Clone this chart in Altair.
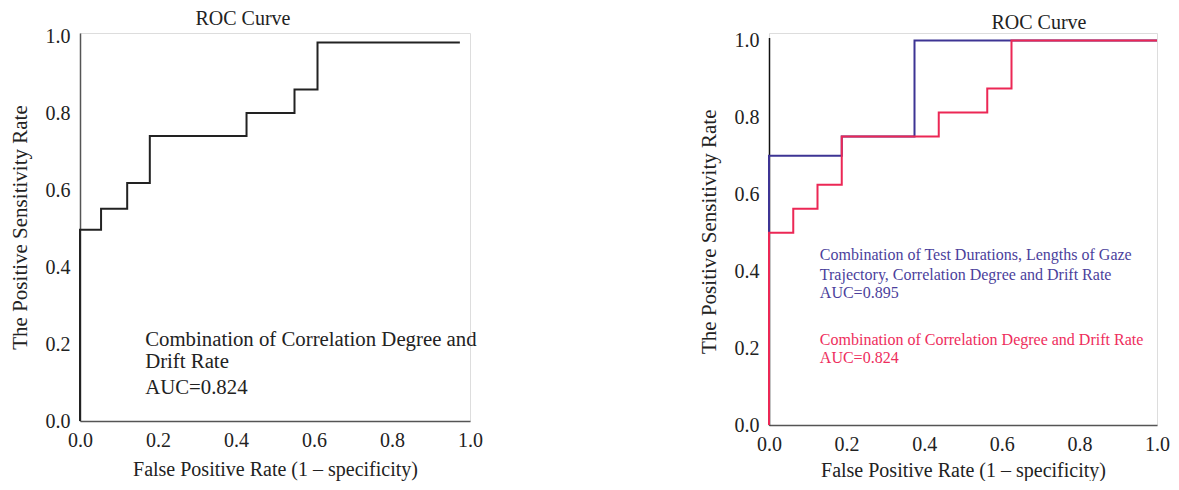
import altair as alt
import pandas as pd

# Left panel ROC (step vertices)
left_fpr = [0.0, 0.0, 0.054, 0.121, 0.179, 0.427, 0.550, 0.609, 0.974]
left_tpr = [0.0, 0.497, 0.551, 0.618, 0.740, 0.800, 0.861, 0.983, 0.983]

# Right panel ROC curves
blue_fpr = [0.0, 0.0, 0.1875, 0.375, 1.0]
blue_tpr = [0.0, 0.70, 0.75, 1.0, 1.0]
red_fpr = [0.0, 0.0, 0.0625, 0.125, 0.1875, 0.4375, 0.5625, 0.625, 1.0]
red_tpr = [0.0, 0.50, 0.5625, 0.625, 0.75, 0.8125, 0.875, 1.0, 1.0]

tick_vals = [0.0, 0.2, 0.4, 0.6, 0.8, 1.0]

left_text = ["Combination of Correlation Degree and", "Drift Rate", "AUC=0.824"]
left_text_y = [0.195, 0.138, 0.070]
blue_text = ["Combination of Test Durations, Lengths of Gaze",
             "Trajectory, Correlation Degree and Drift Rate", "AUC=0.895"]
blue_text_y = [0.430, 0.378, 0.331]
red_text = ["Combination of Correlation Degree and Drift Rate", "AUC=0.824"]
red_text_y = [0.208, 0.162]

FONT = "Liberation Serif"
BLUE = "#3d3494"
RED = "#ec2755"
BLUE_T = "#4b3f9c"
RED_T = "#ee2d5c"
LFS = 20
YMAX = 1.0078

def xenc(domain_color, title_pad):
    return alt.X("fpr:Q", scale=alt.Scale(domain=[0, 1], nice=False),
                 axis=alt.Axis(values=tick_vals, format=".1f", grid=False, ticks=False,
                               domainColor=domain_color, domainWidth=1.5,
                               labelFont=FONT, labelFontSize=LFS, labelColor="#222",
                               labelPadding=9, titleFont=FONT, titleFontSize=20,
                               titleFontWeight="normal", titleColor="#222",
                               titlePadding=title_pad, labelFlush=False),
                 title="False Positive Rate (1 \u2013 specificity)")

def yenc(domain_color, yrange=None):
    sc = alt.Scale(domain=[0, YMAX], nice=False, range=yrange) if yrange else \
        alt.Scale(domain=[0, YMAX], nice=False)
    return alt.Y("tpr:Q", scale=sc,
                 axis=alt.Axis(values=tick_vals, format=".1f", grid=False, ticks=False,
                               domainColor=domain_color, domainWidth=1.5,
                               labelFont=FONT, labelFontSize=LFS, labelColor="#222",
                               labelPadding=10, titleFont=FONT, titleFontSize=21,
                               titleFontWeight="normal", titleColor="#222", titlePadding=15,
                               labelFlush=False),
                 title="The Positive Sensitivity Rate")

left_df = pd.DataFrame({"fpr": left_fpr, "tpr": left_tpr})
left_line = alt.Chart(left_df).mark_line(interpolate="step-after", color="#222",
                                         strokeWidth=2).encode(x=xenc("#555", 9), y=yenc("#555"))
left_ann = alt.Chart(pd.DataFrame({"t": left_text, "y": left_text_y})).mark_text(
    align="left", baseline="alphabetic", font=FONT, fontSize=20.8, color="#222"
).encode(x=alt.datum(0.167), y="y:Q", text="t:N")

left = alt.layer(left_line, left_ann).properties(
    width=390, height=388,
    title=alt.TitleParams("ROC Curve", font=FONT, fontSize=20, fontWeight="normal",
                          color="#222", dx=-32, offset=-3, frame="group"))

blue_df = pd.DataFrame({"fpr": blue_fpr, "tpr": blue_tpr})
red_df = pd.DataFrame({"fpr": red_fpr, "tpr": red_tpr})
blue_line = alt.Chart(blue_df).mark_line(interpolate="step-after", color=BLUE,
                                         strokeWidth=2).encode(x=xenc("#555", 6),
                                                               y=yenc("#111", [392, 4.5]))
red_line = alt.Chart(red_df).mark_line(interpolate="step-after", color=RED,
                                       strokeWidth=2).encode(x="fpr:Q", y="tpr:Q")
blue_ann = alt.Chart(pd.DataFrame({"t": blue_text, "y": blue_text_y})).mark_text(
    align="left", baseline="alphabetic", font=FONT, fontSize=16, color=BLUE_T
).encode(x=alt.datum(0.131), y="y:Q", text="t:N")
red_ann = alt.Chart(pd.DataFrame({"t": red_text, "y": red_text_y})).mark_text(
    align="left", baseline="alphabetic", font=FONT, fontSize=16, color=RED_T
).encode(x=alt.datum(0.131), y="y:Q", text="t:N")

right = alt.layer(blue_line, red_line, blue_ann, red_ann).properties(
    width=388, height=392,
    title=alt.TitleParams("ROC Curve", font=FONT, fontSize=20, fontWeight="normal",
                          color="#222", dx=76, offset=-3, frame="group"))

chart = alt.hconcat(left, right, spacing=214).configure_view(stroke=None).properties(
    padding={"left": 0, "top": 0, "right": 0, "bottom": 0}
).configure(background="white")

chart.save("out.html", embed_options={"renderer": "svg", "actions": False})
